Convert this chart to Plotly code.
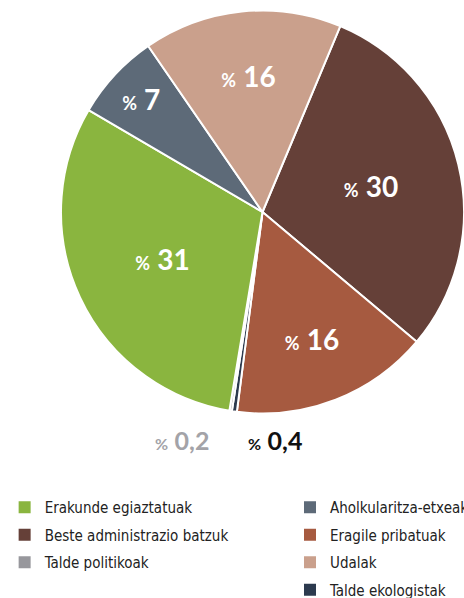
import plotly.graph_objects as go

# Slices in clockwise order, starting just right of 12 o'clock
labels = ["Beste administrazio batzuk", "Eragile pribatuak", "Talde ekologistak",
          "Talde politikoak", "Erakunde egiaztatuak", "Aholkularitza-etxeak", "Udalak"]
values = [30, 16, 0.4, 0.2, 31, 7, 16]
colors = ["#654038", "#a65a40", "#2c3a4e", "#97979c", "#8ab53f", "#5d6a78", "#caa08c"]

# Legend columns
legend_left = ["Erakunde egiaztatuak", "Beste administrazio batzuk", "Talde politikoak"]
legend_right = ["Aholkularitza-etxeak", "Eragile pribatuak", "Udalak", "Talde ekologistak"]

# Small slices get their labels below the pie instead of inside
small_labels = ["Talde politikoak", "Talde ekologistak"]
small_colors = {"Talde politikoak": "#a3a3a8", "Talde ekologistak": "#111111"}

NUM_FONT = "Lato, 'Open Sans', sans-serif"
LEG_FONT = "'Liberation Sans Narrow', 'DejaVu Sans Condensed', 'Roboto', sans-serif"


def fmt(v):
    return f"{v:g}".replace(".", ",")


def label_html(v, pct_size, num_size):
    return (f"<span style='font-size:{pct_size}px'><b>%</b></span>"
            f" <span style='font-size:{num_size}px'><b>{fmt(v)}</b></span>")


slice_text = [("" if lab in small_labels else label_html(v, 18, 28))
              for lab, v in zip(labels, values)]
color_of = dict(zip(labels, colors))

fig = go.Figure()
fig.add_trace(go.Pie(
    labels=labels,
    values=values,
    text=slice_text,
    texttemplate="%{text}",
    textposition="inside",
    insidetextorientation="horizontal",
    textfont=dict(family=NUM_FONT, color="white", size=28),
    marker=dict(colors=colors, line=dict(color="white", width=2)),
    sort=False,
    direction="clockwise",
    rotation=22.7,
    showlegend=False,
    hoverinfo="label+percent",
    domain=dict(x=[61 / 464, 1.0], y=[1 - 414 / 598, 1 - 10 / 598]),
))

# Legend entries (two columns)
for name in legend_left:
    fig.add_trace(go.Scatter(
        x=[None], y=[None], mode="markers", name=name, legend="legend",
        legendgroup=name,
        marker=dict(symbol="square", size=12, color=color_of[name]),
    ))
for name in legend_right:
    fig.add_trace(go.Scatter(
        x=[None], y=[None], mode="markers", name=name, legend="legend2",
        legendgroup=name,
        marker=dict(symbol="square", size=12, color=color_of[name]),
    ))

# Labels for the two tiny slices
small_pos = {"Talde politikoak": 182 / 464, "Talde ekologistak": 275 / 464}
for lab in small_labels:
    v = values[labels.index(lab)]
    fig.add_annotation(
        x=small_pos[lab], y=1 - 440 / 598, xref="paper", yref="paper",
        text=label_html(v, 16, 25), showarrow=False,
        font=dict(family=NUM_FONT, color=small_colors[lab], size=25),
        xanchor="center", yanchor="middle",
    )

legend_common = dict(
    font=dict(family=LEG_FONT, size=15, color="#222222"),
    bgcolor="rgba(0,0,0,0)", borderwidth=0,
    orientation="v", yanchor="top", xanchor="left",
    tracegroupgap=5, itemwidth=30,
)

fig.update_layout(
    width=464, height=598,
    margin=dict(l=0, r=0, t=0, b=0, autoexpand=False),
    paper_bgcolor="white", plot_bgcolor="white",
    xaxis=dict(visible=False), yaxis=dict(visible=False),
    legend=dict(x=0.01, y=1 - 491 / 598, **legend_common),
    legend2=dict(x=290 / 464, y=1 - 491 / 598, **legend_common),
)

fig.write_html("out.html")
